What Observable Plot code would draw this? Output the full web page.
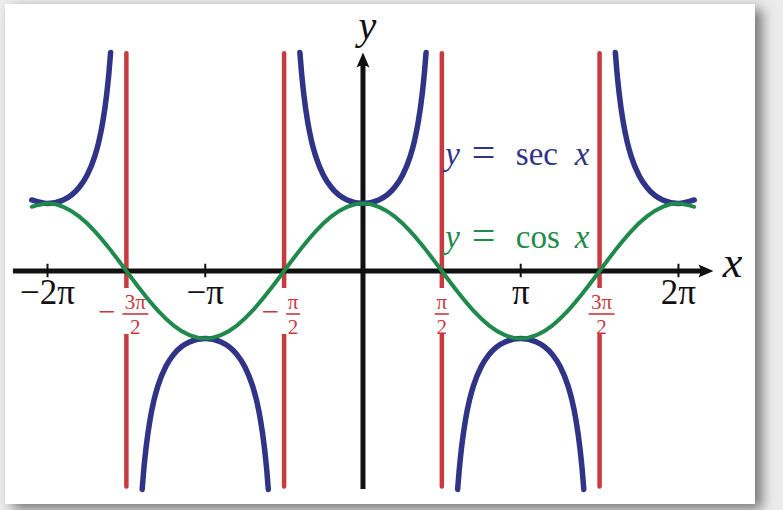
<!DOCTYPE html>
<html>
<head>
<meta charset="utf-8">
<script src="https://cdn.jsdelivr.net/npm/d3@7"></script>
<script src="https://cdn.jsdelivr.net/npm/@observablehq/plot@0.6"></script>
<style>
html, body { margin: 0; padding: 0; background: #ececec; width: 783px; height: 510px; overflow: hidden; }
#card { position: absolute; left: 5px; top: 4px; width: 750px; height: 500px; background: #fff;
        box-shadow: 7px 5px 12px rgba(0,0,0,0.5); }
#chart { position: absolute; left: 0; top: 0; }
#chart svg text { font-family: "Liberation Serif", "Times New Roman", "DejaVu Serif", serif !important; }
</style>
</head>
<body>
<div id="card"></div>
<div id="chart"></div>
<script>
// ---- data (x in multiples of π) ----
const cosX = [-2.1,-2.0,-1.9,-1.8,-1.7,-1.6,-1.5,-1.4,-1.3,-1.2,-1.1,-1.0,-0.9,-0.8,-0.7,-0.6,-0.5,-0.4,-0.3,-0.2,-0.1,
              0,0.1,0.2,0.3,0.4,0.5,0.6,0.7,0.8,0.9,1.0,1.1,1.2,1.3,1.4,1.5,1.6,1.7,1.8,1.9,2.0,2.1];
const cosY = [0.951,1,0.951,0.809,0.588,0.309,0,-0.309,-0.588,-0.809,-0.951,-1,-0.951,-0.809,-0.588,-0.309,0,0.309,0.588,0.809,0.951,
              1,0.951,0.809,0.588,0.309,0,-0.309,-0.588,-0.809,-0.951,-1,-0.951,-0.809,-0.588,-0.309,0,0.309,0.588,0.809,0.951,1,0.951];

const secX = [
  [-2.1,-2.0,-1.9,-1.8,-1.75,-1.7,-1.675,-1.65,-1.625,-1.61,-1.6],
  [-1.4,-1.39,-1.375,-1.35,-1.325,-1.3,-1.25,-1.2,-1.1,-1.0,-0.9,-0.8,-0.75,-0.7,-0.675,-0.65,-0.625,-0.61,-0.6],
  [-0.4,-0.39,-0.375,-0.35,-0.325,-0.3,-0.25,-0.2,-0.1,0,0.1,0.2,0.25,0.3,0.325,0.35,0.375,0.39,0.4],
  [0.6,0.61,0.625,0.65,0.675,0.7,0.75,0.8,0.9,1.0,1.1,1.2,1.25,1.3,1.325,1.35,1.375,1.39,1.4],
  [1.6,1.61,1.625,1.65,1.675,1.7,1.75,1.8,1.9,2.0,2.1]
];
const secY = [
  [1.052,1,1.052,1.236,1.414,1.701,1.914,2.203,2.613,2.952,3.236],
  [-3.236,-2.952,-2.613,-2.203,-1.914,-1.701,-1.414,-1.236,-1.052,-1,-1.052,-1.236,-1.414,-1.701,-1.914,-2.203,-2.613,-2.952,-3.236],
  [3.236,2.952,2.613,2.203,1.914,1.701,1.414,1.236,1.052,1,1.052,1.236,1.414,1.701,1.914,2.203,2.613,2.952,3.236],
  [-3.236,-2.952,-2.613,-2.203,-1.914,-1.701,-1.414,-1.236,-1.052,-1,-1.052,-1.236,-1.414,-1.701,-1.914,-2.203,-2.613,-2.952,-3.236],
  [3.236,2.952,2.613,2.203,1.914,1.701,1.414,1.236,1.052,1,1.052]
];

const tickValues = [-2, -1, 1, 2];
const tickLabels = ["−2π", "−π", "π", "2π"];

const asymptotes = [-1.5, -0.5, 0.5, 1.5];
const asymSigns = ["−", "−", "", ""];
const asymNums = ["3π", "π", "π", "3π"];
const asymDen = "2";

const seriesNames = ["sec", "cos"];

// ---- build tables ----
const cosData = cosX.map((x, i) => ({x, y: cosY[i]}));
const secData = secX.flatMap((xs, b) => xs.map((x, i) => ({x, y: secY[b][i], b})));

// ---- style ----
const SERIF = "Liberation Serif, Times New Roman, DejaVu Serif, serif";
const BLUE = "#303487", GREEN = "#1f8a4b", RED = "#c63a40", INK = "#111";

const rectSym = (w, h) => ({draw(ctx) { ctx.rect(-w / 2, -h / 2, w, h); }});
const arrowRight = {draw(ctx) { ctx.moveTo(0, 0); ctx.lineTo(-15, -6.5); ctx.quadraticCurveTo(-11, 0, -15, 6.5); ctx.closePath(); }};
const arrowUp = {draw(ctx) { ctx.moveTo(0, 0); ctx.lineTo(-6.5, 15); ctx.quadraticCurveTo(0, 11, 6.5, 15); ctx.closePath(); }};
const txt = (s, opts) => Plot.text([s], {text: d => d, lineAnchor: "bottom", fontFamily: SERIF, ...opts});

// fraction labels for the asymptotes
const fracMarks = asymptotes.flatMap((a, i) => {
  const wide = asymNums[i].length > 1;
  const halfW = wide ? 12 : 6;
  const fracDx = asymSigns[i] ? 9 : (wide ? 2 : 0);
  const marks = [
    Plot.dot([a], {x: d => d, y: 0, dx: fracDx - 2, dy: 40, symbol: rectSym(2 * halfW + 14, 46), fill: "white", stroke: "none"}),
    txt(asymNums[i], {x: a, y: 0, dx: fracDx, dy: 38, fontSize: 21, fill: RED}),
    Plot.dot([a], {x: d => d, y: 0, dx: fracDx, dy: 43, symbol: rectSym(2 * halfW + 2, 1.6), fill: RED, stroke: "none"}),
    txt(asymDen, {x: a, y: 0, dx: fracDx, dy: 63.5, fontSize: 21, fill: RED})
  ];
  if (asymSigns[i]) marks.push(txt(asymSigns[i], {x: a, y: 0, dx: fracDx - halfW - 8, dy: 51, textAnchor: "end", fontSize: 31, fill: RED}));
  return marks;
});

// series labels "y = sec x", "y = cos x"
const seriesColors = [BLUE, GREEN];
const seriesBase = [1.563, 0.348];
const seriesMarks = seriesNames.flatMap((name, i) => [
  txt("y", {x: 0.5, y: seriesBase[i], dx: 3.5, textAnchor: "start", fontStyle: "italic", fontSize: 33, fill: seriesColors[i]}),
  txt("=", {x: 0.5, y: seriesBase[i], dx: 30, dy: 1, textAnchor: "start", fontSize: 42, fill: seriesColors[i]}),
  txt(name, {x: 0.5, y: seriesBase[i], dx: 74, textAnchor: "start", fontSize: 33, fill: seriesColors[i]}),
  txt("x", {x: 0.5, y: seriesBase[i], dx: 133, textAnchor: "start", fontStyle: "italic", fontSize: 33, fill: seriesColors[i]})
]);

const chart = Plot.plot({
  width: 783,
  height: 510,
  margin: 0,
  style: {background: "none"},
  x: {domain: [-2.298, 2.666], axis: null},
  y: {domain: [-3.548, 4.007], axis: null},
  marks: [
    Plot.ruleX(asymptotes, {x: d => d, y1: -3.2, y2: 3.22, stroke: RED, strokeWidth: 4.5, strokeLinecap: "round"}),
    ...fracMarks,
    Plot.ruleY([0], {y: d => d, x1: -2.216, x2: 2.171, stroke: INK, strokeWidth: 5}),
    Plot.ruleX([0], {x: d => d, y1: -3.237, y2: 3.12, stroke: INK, strokeWidth: 5}),
    Plot.ruleX(tickValues, {x: d => d, y1: -0.1, y2: 0.1, stroke: INK, strokeWidth: 2}),
    Plot.dot([0], {x: 2.222, y: 0, symbol: arrowRight, fill: INK, stroke: "none"}),
    Plot.dot([0], {x: 0, y: 3.237, symbol: arrowUp, fill: INK, stroke: "none"}),
    Plot.line(secData, {x: "x", y: "y", z: "b", stroke: BLUE, strokeWidth: 5.5, curve: "monotone-x"}),
    Plot.line(cosData, {x: "x", y: "y", stroke: GREEN, strokeWidth: 4, curve: "natural"}),
    Plot.text(tickValues, {x: d => d, y: 0, text: (d, i) => tickLabels[i], dy: 33.5, lineAnchor: "bottom", fontFamily: SERIF, fontSize: 35, fill: INK}),
    txt("x", {x: 2.222, y: 0, dx: 19, dy: 6.5, fontStyle: "italic", fontSize: 44, fill: INK}),
    txt("y", {x: 0, y: 3.237, dx: 4.5, dy: -13, fontStyle: "italic", fontSize: 40, fill: INK}),
    ...seriesMarks
  ]
});
document.getElementById("chart").appendChild(chart);
</script>
</body>
</html>
